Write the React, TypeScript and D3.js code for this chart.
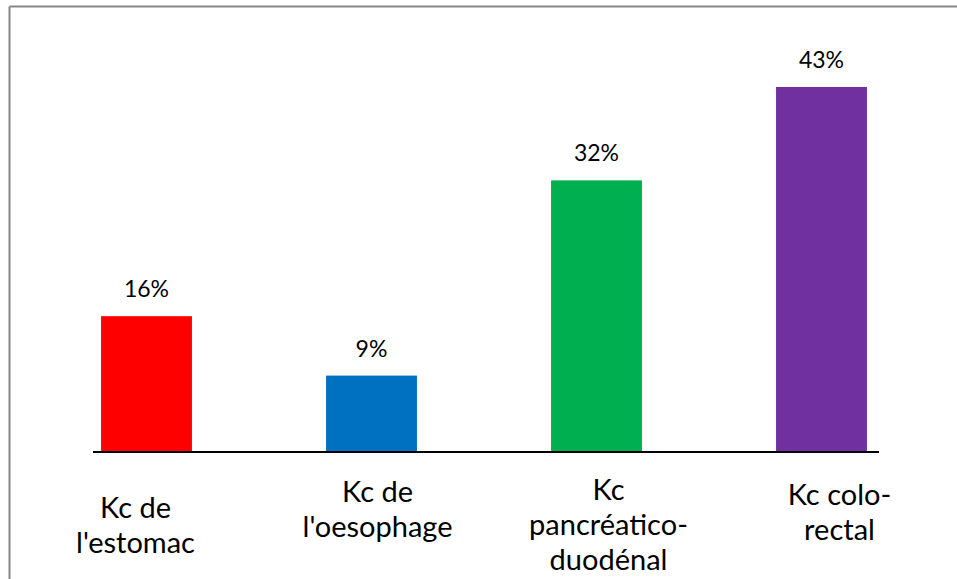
import * as d3 from "d3";

const categories = [
  ["Kc de", "l'estomac"],
  ["Kc de", "l'oesophage"],
  ["Kc", "pancréatico-", "duodénal"],
  ["Kc colo-", "rectal"],
];
const values = [16, 9, 32, 43];
const valueLabels = ["16%", "9%", "32%", "43%"];
const colors = ["#FF0000", "#0070C0", "#00B050", "#7030A0"];

// hand-placed label boxes in the source, nudged off the bar centres
const labelNudge = [
  { dx: -11, y: 518 },
  { dx: 6, y: 502 },
  { dx: 12, y: 500 },
  { dx: 18, y: 505 },
];

const W = 957;
const H = 579;
const baseline = 452;
const font = "Lato, 'Open Sans', sans-serif";

export default function App() {
  const keys = categories.map((_, i) => String(i));
  const x = d3.scaleBand<string>().domain(keys).range([34, 934]).paddingInner(0.596).paddingOuter(0.298);
  const y = d3.scaleLinear().domain([0, 43]).range([baseline, 87]);

  return (
    <svg width={W} height={H} style={{ position: "absolute", left: 0, top: 0, background: "#fff" }}>
      {/* frame */}
      <line x1={9.5} y1={H} x2={9.5} y2={6.5} stroke="#878787" strokeWidth={2} />
      <line x1={9.5} y1={6.5} x2={W} y2={6.5} stroke="#878787" strokeWidth={2} />

      {values.map((v, i) => {
        const cx = x(keys[i])! + x.bandwidth() / 2;
        return (
          <g key={i}>
            <rect x={x(keys[i])} y={y(v)} width={x.bandwidth()} height={baseline - y(v)} fill={colors[i]} />
            <text x={cx} y={y(v) - 19} textAnchor="middle" fontFamily={font} fontSize={23} fill="#000">
              {valueLabels[i]}
            </text>
            <text x={cx + labelNudge[i].dx} y={labelNudge[i].y} textAnchor="middle" fontFamily={font} fontSize={29} fill="#000">
              {categories[i].map((line, j) => (
                <tspan key={j} x={cx + labelNudge[i].dx} dy={j === 0 ? 0 : 35}>
                  {line}
                </tspan>
              ))}
            </text>
          </g>
        );
      })}

      <line x1={93} y1={baseline} x2={879} y2={baseline} stroke="#000" strokeWidth={2} />
    </svg>
  );
}
